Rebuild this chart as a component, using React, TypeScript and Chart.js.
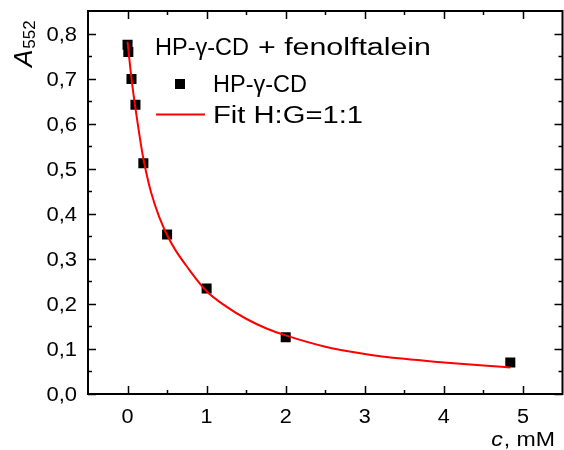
import React, { useEffect, useRef } from "react";
import { Chart, registerables } from "chart.js";

Chart.register(...registerables);

// ---- data ----
const pointC = [0, 0.01, 0.05, 0.1, 0.2, 0.5, 1, 2, 4.84];
const pointA = [0.775, 0.759, 0.699, 0.642, 0.512, 0.354, 0.234, 0.126, 0.07];

const fitC = [0, 0.05, 0.1, 0.15, 0.2, 0.25, 0.3, 0.4, 0.5, 0.6, 0.75, 1.0, 1.25, 1.5, 1.75, 2.0, 2.5, 3.0, 3.5, 4.0, 4.5, 4.84];
const fitA = [0.782, 0.7, 0.634, 0.575, 0.522, 0.481, 0.446, 0.393, 0.353, 0.321, 0.283, 0.228, 0.194, 0.167, 0.146, 0.13, 0.105, 0.089, 0.078, 0.07, 0.063, 0.059];

const xRange = [-0.5, 5.5];
const yRange = [0, 0.85];
const xTicks = [0, 1, 2, 3, 4, 5];
const xTickLabels = ["0", "1", "2", "3", "4", "5"];
const xMinorTicks = [0.5, 1.5, 2.5, 3.5, 4.5];
const yTicks = [0, 0.1, 0.2, 0.3, 0.4, 0.5, 0.6, 0.7, 0.8];
const yTickLabels = ["0,0", "0,1", "0,2", "0,3", "0,4", "0,5", "0,6", "0,7", "0,8"];
const yMinorTicks = [0.05, 0.15, 0.25, 0.35, 0.45, 0.55, 0.65, 0.75];

const legendHost = "HP-\u03b3-CD";
const legendGuest = "+ fenolftalein";
const pointLabel = "HP-\u03b3-CD";
const fitLabel = "Fit H:G=1:1";

const FONT = "'Liberation Sans', Arial, sans-serif";

function drawText(
  ctx: CanvasRenderingContext2D,
  text: string,
  x: number,
  y: number,
  font: string,
  opts: { sx?: number; width?: number; align?: "left" | "right" | "center" } = {}
) {
  ctx.save();
  ctx.font = font;
  const natural = ctx.measureText(text).width;
  const sx = opts.width ? opts.width / natural : opts.sx ?? 1;
  const w = natural * sx;
  const align = opts.align ?? "left";
  const x0 = align === "right" ? x - w : align === "center" ? x - w / 2 : x;
  ctx.translate(x0, y);
  ctx.scale(sx, 1);
  ctx.textAlign = "left";
  ctx.textBaseline = "alphabetic";
  ctx.fillText(text, 0, 0);
  ctx.restore();
  return w;
}

const framePlugin = {
  id: "frame",
  afterDraw(chart: any) {
    const { ctx, chartArea: a, scales } = chart;
    const xs = scales.x;
    const ys = scales.y;
    ctx.save();
    ctx.strokeStyle = "#000";
    ctx.fillStyle = "#000";
    ctx.lineWidth = 2;
    ctx.strokeRect(a.left, a.top, a.right - a.left, a.bottom - a.top);
    ctx.lineWidth = 1.5;
    ctx.beginPath();
    const tick = (vals: number[], len: number) => {
      vals.forEach((v) => {
        const px = Math.round(xs.getPixelForValue(v)) + 0.5;
        ctx.moveTo(px, a.bottom);
        ctx.lineTo(px, a.bottom - len);
        ctx.moveTo(px, a.top);
        ctx.lineTo(px, a.top + len);
      });
    };
    const ytick = (vals: number[], len: number) => {
      vals.forEach((v) => {
        const py = Math.round(ys.getPixelForValue(v)) + 0.5;
        ctx.moveTo(a.left, py);
        ctx.lineTo(a.left + len, py);
        ctx.moveTo(a.right, py);
        ctx.lineTo(a.right - len, py);
      });
    };
    tick(xTicks, 8);
    tick(xMinorTicks, 4);
    ytick(yTicks, 8);
    ytick(yMinorTicks, 4);
    ctx.stroke();

    // tick labels
    const tickFont = `20px ${FONT}`;
    xTicks.forEach((v, i) => {
      drawText(ctx, xTickLabels[i], xs.getPixelForValue(v), a.bottom + 29, tickFont, { sx: 1.08, align: "center" });
    });
    yTicks.forEach((v, i) => {
      drawText(ctx, yTickLabels[i], a.left - 11, ys.getPixelForValue(v) + 7, tickFont, { sx: 1.1, align: "right" });
    });

    // legend
    const lf = `23px ${FONT}`;
    drawText(ctx, legendHost, 155, 55, lf, { width: 94 });
    drawText(ctx, legendGuest, 258, 55, lf, { width: 173 });
    ctx.fillRect(175, 79, 10, 10);
    drawText(ctx, pointLabel, 213, 92, lf, { width: 94 });
    ctx.strokeStyle = "#ff0000";
    ctx.lineWidth = 2;
    ctx.beginPath();
    ctx.moveTo(156, 114.5);
    ctx.lineTo(205, 114.5);
    ctx.stroke();
    drawText(ctx, fitLabel, 213, 123, lf, { width: 150 });

    // y title: A_552 rotated
    ctx.save();
    ctx.translate(32, 67);
    ctx.rotate(-Math.PI / 2);
    const wA = drawText(ctx, "A", 0, 0, `italic 26px ${FONT}`);
    drawText(ctx, "552", wA + 1, 3, `17px ${FONT}`);
    ctx.restore();

    // x title: c, mM
    const wRest = drawText(ctx, ", mM", 555, 446, `21px ${FONT}`, { sx: 1.1, align: "right" });
    drawText(ctx, "c", 555 - wRest - 1, 446, `italic 21px ${FONT}`, { sx: 1.1, align: "right" });
    ctx.restore();
  },
};

export default function App() {
  const ref = useRef<HTMLCanvasElement | null>(null);
  useEffect(() => {
    document.body.style.margin = "0";
    const canvas = ref.current!;
    const chart = new Chart(canvas, {
      type: "scatter",
      data: {
        datasets: [
          {
            label: fitLabel,
            data: fitC.map((c, i) => ({ x: c, y: fitA[i] })),
            showLine: true,
            borderColor: "#ff0000",
            borderWidth: 2,
            pointRadius: 0,
            cubicInterpolationMode: "monotone",
            fill: false,
          } as any,
          {
            label: pointLabel,
            data: pointC.map((c, i) => ({ x: c, y: pointA[i] })),
            pointStyle: "rect",
            pointRadius: 7.1,
            backgroundColor: "#000",
            borderColor: "#000",
            borderWidth: 0,
            showLine: false,
          } as any,
        ],
      },
      options: {
        animation: false,
        responsive: false,
        devicePixelRatio: 1,
        layout: { autoPadding: false, padding: { top: 11, right: 1.5, left: 0, bottom: 0 } },
        plugins: { legend: { display: false }, tooltip: { enabled: false } },
        scales: {
          x: {
            type: "linear",
            min: xRange[0],
            max: xRange[1],
            afterBuildTicks: (s: any) => {
              s.ticks = xTicks.map((v) => ({ value: v }));
            },
            afterFit: (s: any) => {
              s.height = 56;
              s.paddingLeft = 0;
              s.paddingRight = 0;
              s.paddingTop = 0;
              s.paddingBottom = 0;
            },
            grid: { display: false, drawTicks: false },
            border: { display: false },
            ticks: { display: false },
          },
          y: {
            type: "linear",
            min: yRange[0],
            max: yRange[1],
            afterBuildTicks: (s: any) => {
              s.ticks = yTicks.map((v) => ({ value: v }));
            },
            afterFit: (s: any) => {
              s.width = 88;
              s.paddingLeft = 0;
              s.paddingRight = 0;
              s.paddingTop = 0;
              s.paddingBottom = 0;
            },
            grid: { display: false, drawTicks: false },
            border: { display: false },
            ticks: { display: false },
          },
        },
      },
      plugins: [framePlugin],
    });
    return () => chart.destroy();
  }, []);
  return (
    <div style={{ width: 564, height: 450 }}>
      <canvas ref={ref} width={564} height={450} style={{ width: 564, height: 450, display: "block" }} />
    </div>
  );
}
